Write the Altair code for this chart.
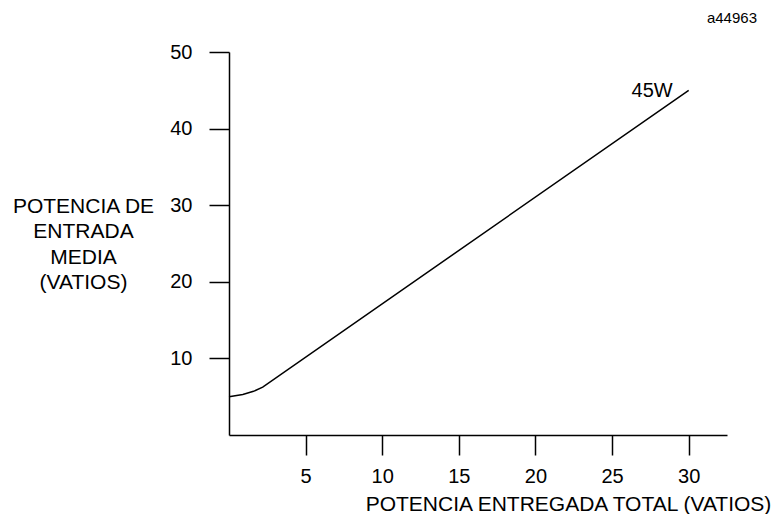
import altair as alt
import pandas as pd

# Curve: average input power vs total delivered power
out_power = [0.0, 0.9, 1.6, 2.2, 30.0]
in_power = [5.0, 5.3, 5.7, 6.25, 45.0]

x_ticks = [5, 10, 15, 20, 25, 30]
y_ticks = [10, 20, 30, 40, 50]

label_text = ["45W"]
label_x = [30.0]
label_y = [45.0]

FONT = "Liberation Sans"
FS_TICK = 20
FS_TITLE = 21

df = pd.DataFrame({"x": out_power, "y": in_power})
lab = pd.DataFrame({"x": label_x, "y": label_y, "t": label_text})

x_enc = alt.X(
    "x:Q",
    scale=alt.Scale(domain=[0, 32.5], nice=False, zero=False),
    axis=alt.Axis(
        values=x_ticks,
        title="POTENCIA ENTREGADA TOTAL (VATIOS)",
        titleX=339,
        titleY=75,
        titleAlign="center",
        titleBaseline="alphabetic",
        titleFont=FONT,
        titleFontSize=FS_TITLE,
        titleFontWeight="normal",
        titleColor="black",
        labelFont=FONT,
        labelFontSize=FS_TICK,
        labelColor="black",
        labelPadding=11,
        tickSize=20,
        tickColor="black",
        tickWidth=1.5,
        domainColor="black",
        domainWidth=1.5,
        grid=False,
    ),
)
y_enc = alt.Y(
    "y:Q",
    scale=alt.Scale(domain=[0, 50], nice=False, zero=False),
    axis=alt.Axis(
        values=y_ticks,
        title=["POTENCIA DE", "ENTRADA", "MEDIA", "(VATIOS)"],
        titleAngle=0,
        titleX=-146,
        titleY=160,
        titleAlign="center",
        titleBaseline="alphabetic",
        titleLineHeight=25.5,
        titleFont=FONT,
        titleFontSize=FS_TITLE,
        titleFontWeight="normal",
        titleColor="black",
        labelFont=FONT,
        labelFontSize=FS_TICK,
        labelColor="black",
        labelPadding=17,
        tickSize=20,
        tickColor="black",
        tickWidth=1.5,
        domainColor="black",
        domainWidth=1.5,
        grid=False,
    ),
)

line = alt.Chart(df).mark_line(color="black", strokeWidth=1.5).encode(
    x=x_enc, y=y_enc
)

txt = alt.Chart(lab).mark_text(
    align="right", baseline="alphabetic", dx=-16, dy=7,
    font=FONT, fontSize=FS_TICK, color="black"
).encode(x="x:Q", y="y:Q", text="t:N")

code = alt.Chart(pd.DataFrame({"t": ["a44963"]})).mark_text(
    align="right", baseline="middle", font=FONT, fontSize=15, color="black"
).encode(x=alt.value(528), y=alt.value(-34), text="t:N")

chart = (
    alt.layer(line, txt, code)
    .properties(
        width=498,
        height=383,
        autosize=alt.AutoSizeParams(type="none"),
        padding={"left": 221, "top": 44, "right": 44, "bottom": 79},
        background="white",
    )
    .configure_view(stroke=None)
)

chart.save("out.html", embed_options={"renderer": "svg", "actions": False})
